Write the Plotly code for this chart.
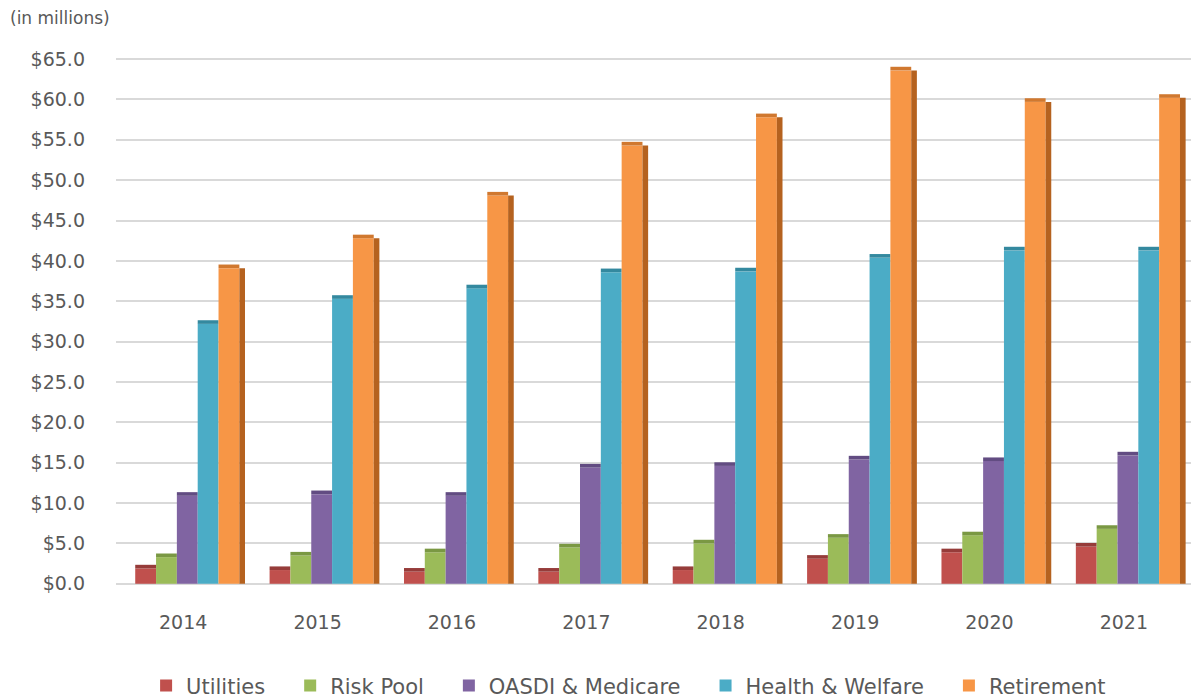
import plotly.graph_objects as go

# ---- data (in millions of $) ----
years = ["2014", "2015", "2016", "2017", "2018", "2019", "2020", "2021"]
utilities = [1.9, 1.7, 1.5, 1.5, 1.7, 3.1, 3.9, 4.6]
risk_pool = [3.3, 3.5, 3.9, 4.5, 5.0, 5.7, 6.0, 6.8]
oasdi_medicare = [10.9, 11.1, 10.9, 14.4, 14.6, 15.4, 15.2, 15.9]
health_welfare = [32.2, 35.3, 36.6, 38.6, 38.7, 40.4, 41.3, 41.3]
retirement = [39.1, 42.8, 48.1, 54.3, 57.8, 63.6, 59.7, 60.2]

series_names = ["Utilities", "Risk Pool", "OASDI & Medicare", "Health & Welfare", "Retirement"]
series_values = [utilities, risk_pool, oasdi_medicare, health_welfare, retirement]
front_colors = ["#C0504D", "#9BBB59", "#8064A2", "#4BACC6", "#F79646"]
top_colors = ["#963C3A", "#7A9843", "#624C82", "#34899F", "#D0782F"]
side_color = "#B5621F"

y_ticks = list(range(0, 70, 5))

BAR_W = 0.155
START = -0.357
CAP = 0.45
FONT = "DejaVu Sans"
GREY = "#595959"

fig = go.Figure()

for i, (name, vals, fc, tc) in enumerate(zip(series_names, series_values, front_colors, top_colors)):
    off = START + i * BAR_W
    fig.add_trace(go.Bar(
        x=years, y=vals, name=name + "\u00a0\u00a0\u00a0",
        marker=dict(color=fc, line=dict(width=0)),
        width=BAR_W, offset=off,
        hovertemplate="%{x} " + name + ": $%{y:.1f}M<extra></extra>",
    ))
    # top face of each column (pseudo-3D)
    fig.add_trace(go.Bar(
        x=years, y=[CAP] * len(vals), base=vals, showlegend=False,
        marker=dict(color=tc, line=dict(width=0)),
        width=BAR_W, offset=off, hoverinfo="skip",
    ))

# right side face of the last column in each group
fig.add_trace(go.Bar(
    x=years, y=retirement, showlegend=False,
    marker=dict(color=side_color, line=dict(width=0)),
    width=0.042, offset=START + 5 * BAR_W, hoverinfo="skip",
))

fig.update_layout(
    width=1192, height=698,
    margin=dict(l=116, r=1, t=47, b=111, autoexpand=False),
    paper_bgcolor="white", plot_bgcolor="white",
    barmode="overlay",
    font=dict(family=FONT, size=19, color=GREY),
    xaxis=dict(
        type="category", showgrid=False, showline=False, ticks="",
        tickfont=dict(family=FONT, size=19, color=GREY),
        ticklabelstandoff=22, range=[-0.5, 7.5], automargin=False,
    ),
    yaxis=dict(
        range=[-0.4, 66.5], tickvals=y_ticks,
        ticktext=["$" + f"{v:.1f}" for v in y_ticks],
        showgrid=True, gridcolor="#D9D9D9", gridwidth=1.5,
        zeroline=True, zerolinecolor="#D9D9D9", zerolinewidth=1.5,
        showline=False, ticks="",
        tickfont=dict(family=FONT, size=19, color=GREY),
        ticklabelstandoff=30, automargin=False,
    ),
    legend=dict(
        orientation="h", x=0.028, xanchor="left", y=-0.183, yanchor="middle",
        font=dict(family=FONT, size=21, color=GREY),
        traceorder="normal", bgcolor="rgba(0,0,0,0)",
    ),
    annotations=[dict(
        text="(in millions)", xref="paper", yref="paper",
        x=-116 / 1075 + 8 / 1075, y=1 + (47 - 18) / 540,
        xanchor="left", yanchor="middle", showarrow=False,
        font=dict(family=FONT, size=17, color=GREY),
    )],
    showlegend=True,
)

fig.write_html("out.html")
